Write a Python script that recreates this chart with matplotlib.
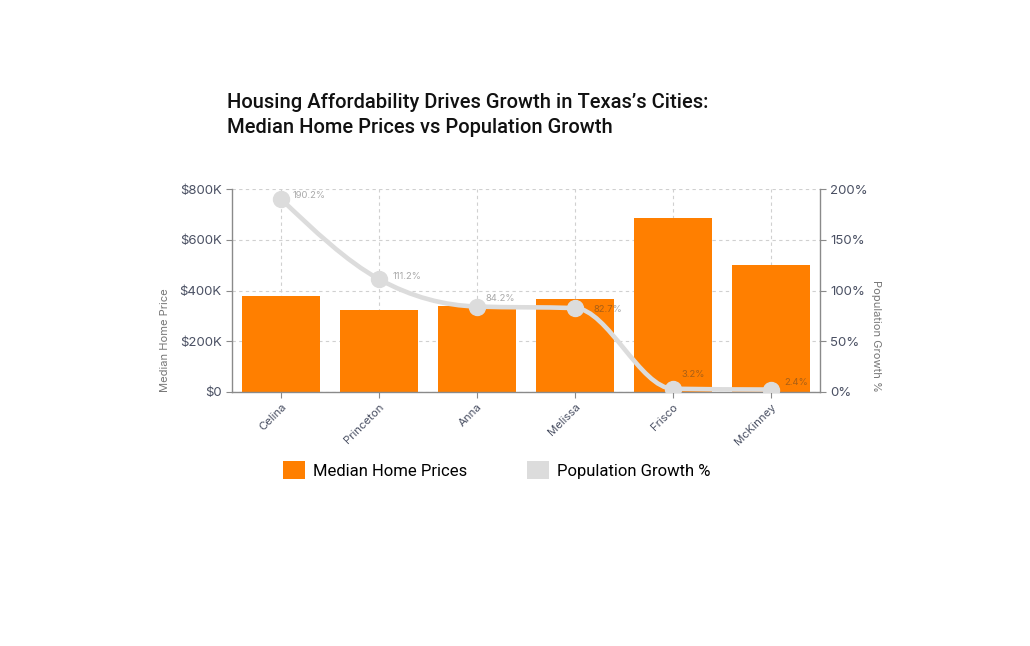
import numpy as np
import matplotlib
matplotlib.use("Agg")
import matplotlib.pyplot as plt
import matplotlib.transforms as mtrans
from matplotlib.path import Path
from matplotlib.patches import PathPatch, Patch
from matplotlib.ticker import FuncFormatter, MultipleLocator

cities = ["Celina", "Princeton", "Anna", "Melissa", "Frisco", "McKinney"]
home_prices = [380000, 325000, 340000, 365000, 685000, 500000]
pop_growth = [190.2, 111.2, 84.2, 82.7, 3.2, 2.4]

title = "Housing Affordability Drives Growth in Texas\u2019s Cities:\nMedian Home Prices vs Population Growth"

ORANGE = "#FF7F00"
LINE_GRAY = "#DCDCDC"
TICK_COL = "#4A5063"
AXIS_COL = "#8A8A8A"

# label offsets from each point, in points (x right, y up)
label_offsets = [(8.6, 2.2), (10, 2.2), (6.5, 5.8), (13.7, -0.7), (5.8, 10), (9.4, 5)]

plt.rcParams["font.family"] = ["Inter", "DejaVu Sans"]


def monotone_path(xs, ys):
    # d3-style monotoneX curve as cubic bezier segments
    xs = np.asarray(xs, float)
    ys = np.asarray(ys, float)
    n = len(xs)
    t = np.zeros(n)
    for i in range(1, n - 1):
        h0 = xs[i] - xs[i - 1]
        h1 = xs[i + 1] - xs[i]
        s0 = (ys[i] - ys[i - 1]) / h0
        s1 = (ys[i + 1] - ys[i]) / h1
        p = (s0 * h1 + s1 * h0) / (h0 + h1)
        t[i] = (np.sign(s0) + np.sign(s1)) * min(abs(s0), abs(s1), 0.5 * abs(p))
    h = xs[1] - xs[0]
    t[0] = (3 * (ys[1] - ys[0]) / h - t[1]) / 2
    h = xs[-1] - xs[-2]
    t[-1] = (3 * (ys[-1] - ys[-2]) / h - t[-2]) / 2
    verts = [(xs[0], ys[0])]
    codes = [Path.MOVETO]
    for i in range(n - 1):
        dx = (xs[i + 1] - xs[i]) / 3
        verts += [(xs[i] + dx, ys[i] + dx * t[i]),
                  (xs[i + 1] - dx, ys[i + 1] - dx * t[i + 1]),
                  (xs[i + 1], ys[i + 1])]
        codes += [Path.CURVE4] * 3
    return Path(verts, codes)


fig = plt.figure(figsize=(10.3, 6.46), dpi=100)
ax = fig.add_axes([0.2252, 0.3932, 0.5709, 0.3142])
x = np.arange(len(cities))

ax.bar(x, home_prices, width=0.8, color=ORANGE, zorder=2)
ax.set_xlim(-0.5, len(cities) - 0.5)
ax.set_ylim(0, 800000)
ax.yaxis.set_major_locator(MultipleLocator(200000))
ax.yaxis.set_major_formatter(FuncFormatter(lambda v, p: "$0" if v == 0 else f"${int(v/1000)}K"))
ax.set_xticks(x)
ax.set_xticklabels(cities, rotation=45, ha="right", rotation_mode="anchor")
shift = mtrans.ScaledTranslation(-3 / 100, 0, fig.dpi_scale_trans)
for lbl in ax.get_xticklabels():
    lbl.set_transform(lbl.get_transform() + shift)
ax.grid(True, color="#D0D0D0", linestyle=(0, (3, 3)), linewidth=0.8, zorder=0)
ax.set_axisbelow(True)
ax.set_ylabel("Median Home Price", color="#777777", fontsize=8, labelpad=7, loc="bottom")

ax2 = ax.twinx()
ax2.set_ylim(0, 200)
ax2.yaxis.set_major_locator(MultipleLocator(50))
ax2.yaxis.set_major_formatter(FuncFormatter(lambda v, p: f"{int(v)}%"))
ax2.set_ylabel("Population Growth %", color="#777777", fontsize=8, rotation=-90, labelpad=9)
ax2.yaxis.label.set_y(0)
ax2.yaxis.label.set_horizontalalignment("right")

for a in (ax, ax2):
    a.spines["top"].set_visible(False)
    for side in ("left", "right", "bottom"):
        a.spines[side].set_color(AXIS_COL)
        a.spines[side].set_linewidth(1.0)
    a.tick_params(colors=AXIS_COL, labelcolor=TICK_COL, labelsize=9.5, length=4, width=0.8)
ax.tick_params(axis="x", labelsize=8.2, pad=3)
ax2.spines["left"].set_visible(False)
ax2.spines["bottom"].set_visible(False)
ax.spines["right"].set_visible(False)

ax2.add_patch(PathPatch(monotone_path(x, pop_growth), facecolor="none",
                        edgecolor=LINE_GRAY, linewidth=3.3, capstyle="round", zorder=3))
ax2.plot(x, pop_growth, linestyle="none", marker="o", markersize=11.5,
         color=LINE_GRAY, zorder=4)
for xi, yi, off in zip(x, pop_growth, label_offsets):
    ax2.annotate(f"{yi}%", (xi, yi), xytext=off, textcoords="offset points",
                 fontsize=6.8, color="#333333", alpha=0.42, va="center", ha="left", zorder=5)

fig.text(0.2204, 0.822, title, fontsize=14.5, fontweight="medium", color="#111111",
         va="center", ha="left", linespacing=1.35, family=["Roboto", "DejaVu Sans"])

handles = [Patch(facecolor=ORANGE, label="Median Home Prices"),
           Patch(facecolor=LINE_GRAY, label="Population Growth %")]
fig.legend(handles=handles, loc="center", bbox_to_anchor=(0.482, 0.272), ncol=2,
           frameon=False, handlelength=1.32, handleheight=1.25,
           handletextpad=0.48, columnspacing=3.6,
           prop={"family": ["Roboto", "DejaVu Sans"], "size": 12})

fig.savefig("out.png", dpi=100)
